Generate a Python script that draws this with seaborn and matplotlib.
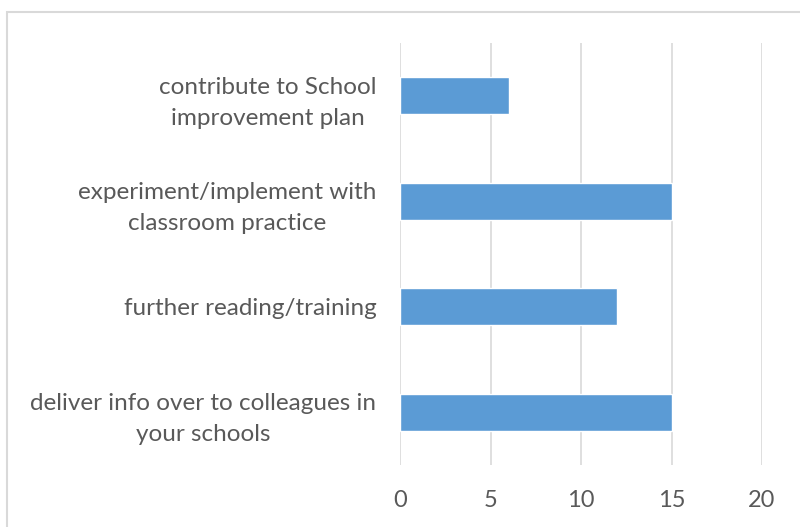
import seaborn as sns
import matplotlib.pyplot as plt
from matplotlib.patches import Rectangle

# Du lieu doc tu bieu do
categories = [
    "contribute to School\nimprovement plan",
    "experiment/implement with\nclassroom practice",
    "further reading/training",
    "deliver info over to colleagues in\nyour schools",
]
values = [6, 15, 12, 15]

sns.set_style("white")
plt.rcParams['font.family'] = ['Lato', 'DejaVu Sans']

fig = plt.figure(figsize=(8, 5.27), dpi=100)
ax = fig.add_axes([0.5, 0.1177, 0.4525, 0.8007])

sns.barplot(x=values, y=categories, orient='h', color='#5B9BD5',
            saturation=1, width=0.35, ax=ax)

ax.set_xlim(0, 20)
ax.set_xticks([0, 5, 10, 15, 20])
ax.xaxis.grid(True, color='#d9d9d9', linewidth=1.2)
ax.set_axisbelow(True)
for s in ax.spines.values():
    s.set_visible(False)
ax.tick_params(axis='x', length=0, pad=18, labelsize=17, labelcolor='#595959')
ax.tick_params(axis='y', length=0, pad=17, labelsize=17.5, labelcolor='#595959')
for lbl in ax.get_yticklabels():
    lbl.set_multialignment('center')
    lbl.set_linespacing(1.6)
ax.set_xlabel('')
ax.set_ylabel('')

# Khung bieu do
fig.patches.append(Rectangle((7 / 800, -0.1), 1.2, 1 - 12 / 527 + 0.1,
                             transform=fig.transFigure, fill=False,
                             edgecolor='#d9d9d9', linewidth=1.5))

fig.savefig('out.png', dpi=100)
